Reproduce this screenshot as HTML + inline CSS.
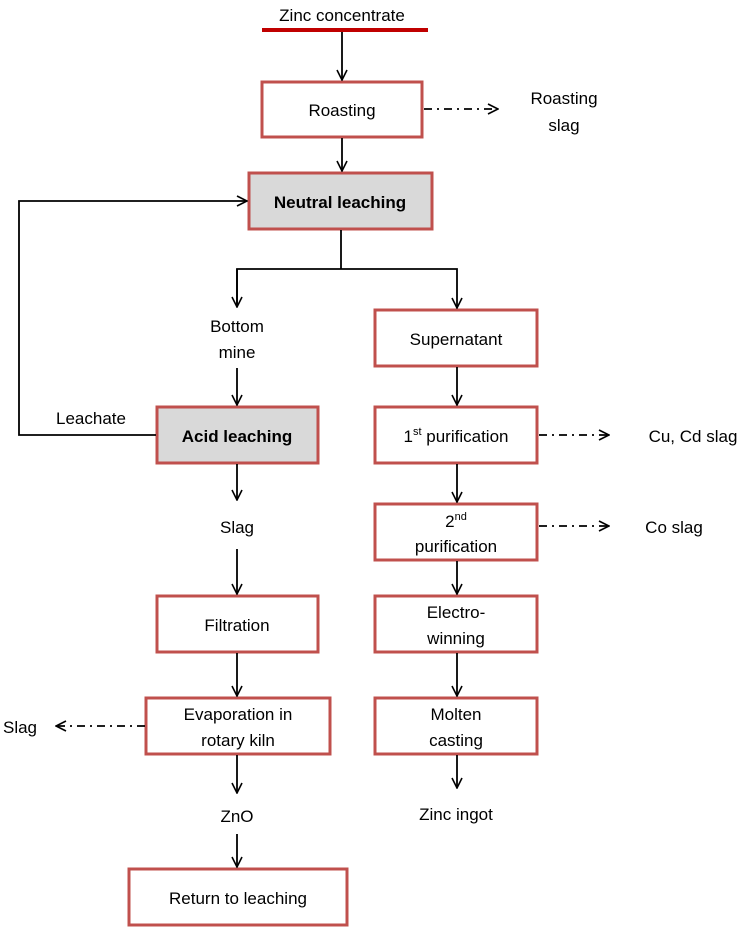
<!DOCTYPE html>
<html><head><meta charset="utf-8"><style>
body{margin:0;background:#fff}
svg text{font-family:"Liberation Sans",sans-serif;font-size:17px;fill:#000;text-anchor:middle}
</style></head><body>
<svg width="742" height="930" viewBox="0 0 742 930" xmlns="http://www.w3.org/2000/svg">
<defs>
<marker id="a" viewBox="0 0 12 12" refX="11" refY="6" markerWidth="12" markerHeight="12" markerUnits="userSpaceOnUse" orient="auto"><path d="M1,1 L11,6 L1,11" fill="none" stroke="#000" stroke-width="1.6"/></marker>
</defs>
<g fill="none" stroke="#c0504d" stroke-width="3">
<rect x="262" y="82" width="160" height="55"/>
<rect x="249" y="173" width="183" height="56" fill="#d9d9d9"/>
<rect x="157" y="407" width="161" height="56" fill="#d9d9d9"/>
<rect x="375" y="310" width="162" height="56"/>
<rect x="375" y="407" width="162" height="56"/>
<rect x="375" y="504" width="162" height="56"/>
<rect x="375" y="596" width="162" height="56"/>
<rect x="375" y="698" width="162" height="56"/>
<rect x="157" y="596" width="161" height="56"/>
<rect x="146" y="698" width="184" height="56"/>
<rect x="129" y="869" width="218" height="56"/>
</g>
<line x1="262" y1="30" x2="428" y2="30" stroke="#c00000" stroke-width="4"/>
<g stroke="#000" stroke-width="1.8" fill="none">
<line x1="342" y1="32" x2="342" y2="80" marker-end="url(#a)"/>
<line x1="342" y1="138" x2="342" y2="171" marker-end="url(#a)"/>
<polyline points="156,435 19,435 19,201 247,201" marker-end="url(#a)"/>
<line x1="341" y1="230" x2="341" y2="269"/>
<polyline points="237,307 237,269 457,269 457,308" marker-end="url(#a)" marker-start="none"/>
<line x1="237" y1="269" x2="237" y2="307" marker-end="url(#a)"/>
<line x1="237" y1="368" x2="237" y2="405" marker-end="url(#a)"/>
<line x1="457" y1="367" x2="457" y2="405" marker-end="url(#a)"/>
<line x1="457" y1="464" x2="457" y2="502" marker-end="url(#a)"/>
<line x1="457" y1="561" x2="457" y2="594" marker-end="url(#a)"/>
<line x1="457" y1="653" x2="457" y2="696" marker-end="url(#a)"/>
<line x1="457" y1="755" x2="457" y2="788" marker-end="url(#a)"/>
<line x1="237" y1="464" x2="237" y2="500" marker-end="url(#a)"/>
<line x1="237" y1="549" x2="237" y2="594" marker-end="url(#a)"/>
<line x1="237" y1="653" x2="237" y2="696" marker-end="url(#a)"/>
<line x1="237" y1="755" x2="237" y2="793" marker-end="url(#a)"/>
<line x1="237" y1="834" x2="237" y2="867" marker-end="url(#a)"/>
<g stroke-dasharray="8,5,2,5">
<line x1="424" y1="109" x2="498" y2="109" marker-end="url(#a)"/>
<line x1="539" y1="435" x2="609" y2="435" marker-end="url(#a)"/>
<line x1="539" y1="526" x2="609" y2="526" marker-end="url(#a)"/>
<line x1="145" y1="726" x2="56" y2="726" marker-end="url(#a)"/>
</g>
</g>
<text x="342" y="21">Zinc concentrate</text>
<text x="342" y="116">Roasting</text>
<text x="564" y="104">Roasting</text>
<text x="564" y="131">slag</text>
<text x="340" y="208" font-weight="bold">Neutral leaching</text>
<text x="237" y="332">Bottom</text>
<text x="237" y="358">mine</text>
<text x="91" y="424">Leachate</text>
<text x="237" y="442" font-weight="bold">Acid leaching</text>
<text x="456" y="345">Supernatant</text>
<text x="456" y="442">1<tspan font-size="11" dy="-7">st</tspan><tspan dy="7"> purification</tspan></text>
<text x="456" y="527">2<tspan font-size="11" dy="-7">nd</tspan></text>
<text x="456" y="552">purification</text>
<text x="456" y="618">Electro-</text>
<text x="456" y="644">winning</text>
<text x="456" y="720">Molten</text>
<text x="456" y="746">casting</text>
<text x="456" y="820" font-size="19">Zinc ingot</text>
<text x="693" y="442">Cu, Cd slag</text>
<text x="674" y="533">Co slag</text>
<text x="237" y="533">Slag</text>
<text x="237" y="631">Filtration</text>
<text x="238" y="720">Evaporation in</text>
<text x="238" y="746">rotary kiln</text>
<text x="20" y="733">Slag</text>
<text x="237" y="822" font-size="19">ZnO</text>
<text x="238" y="904">Return to leaching</text>
</svg>
</body></html>
